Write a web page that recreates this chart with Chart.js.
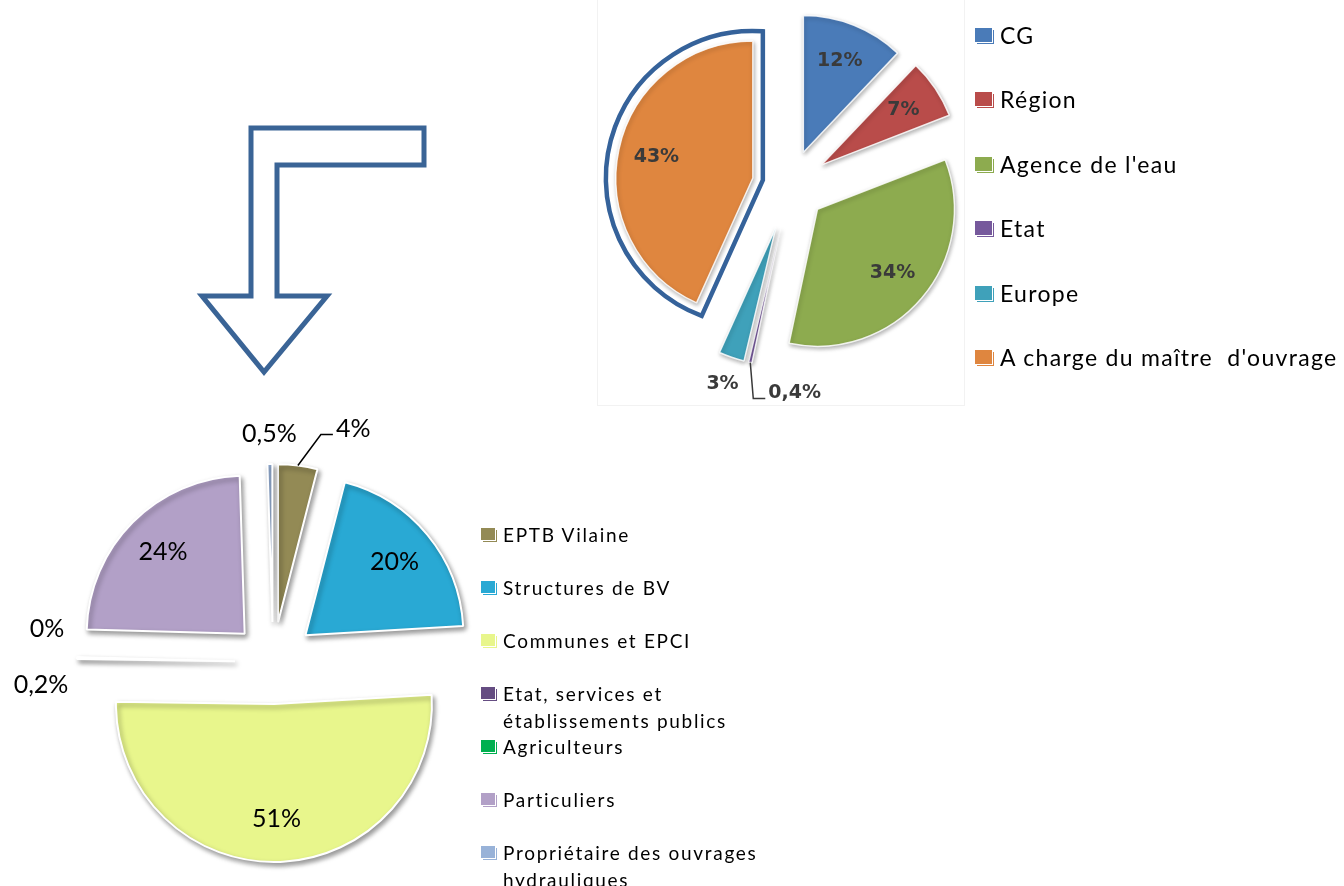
<!DOCTYPE html>
<html lang="fr">
<head>
<meta charset="utf-8">
<title>Répartition des financements</title>
<script src="https://cdn.jsdelivr.net/npm/chart.js@4.4.1/dist/chart.umd.min.js"></script>
<style>
  html, body { margin: 0; padding: 0; background: #fff; }
  body { width: 1344px; height: 886px; position: relative; overflow: hidden; font-family: Lato, "Open Sans", sans-serif; }
  canvas.layer { position: absolute; left: 0; top: 0; }
  #photo-frame { position: absolute; left: 597px; top: -2px; width: 366px; height: 406px; border: 1px solid #f2f2f2; }
  #arrow { position: absolute; left: 0; top: 0; }
  .legend .item { position: absolute; white-space: pre; color: #000; }
  .legend .swatch { position: absolute; left: 0; }
</style>
</head>
<body>
<div id="photo-frame"></div>
<svg id="arrow" width="1344" height="886">
  <polygon points="251,128 424,128 424,165 277,165 277,296 327,296 264,372 202,296 251,296"
           fill="none" stroke="#3a6496" stroke-width="5" stroke-linejoin="miter"/>
</svg>
<canvas id="top-pie" class="layer" width="1344" height="886"></canvas>
<canvas id="bottom-pie" class="layer" width="1344" height="886"></canvas>
<div id="top-legend" class="legend"></div>
<div id="bottom-legend" class="legend"></div>

<script>
// ----------------------------------------
// Data
// ----------------------------------------

// financeurs (top pie)
const topLabels = ['CG', 'Région', "Agence de l'eau", 'Etat', 'Europe', "A charge du maître  d'ouvrage"];
const topValues = [12, 7, 34, 0.4, 3, 43];
const topColors = ['#4a7bb8', '#b94c4a', '#8dab4f', '#76599c', '#3fa1ba', '#df863f'];

// maîtres d'ouvrage (bottom pie)
const bottomLabels = [
  'EPTB Vilaine',
  'Structures de BV',
  'Communes et EPCI',
  ['Etat, services et', 'établissements publics'],
  'Agriculteurs',
  'Particuliers',
  ['Propriétaire des ouvrages', 'hydrauliques']
];
const bottomValues = [4, 20, 51, 0.2, 0, 24, 0.5];
const bottomColors = ['#938a55', '#29a9d4', '#e8f68c', '#654d82', '#00b050', '#b2a0c7', '#98b2d8'];

// ----------------------------------------
// Helpers
// ----------------------------------------

function fmtPercent(v) {
  return String(v).replace('.', ',') + '%';
}

// slices are pulled out by hand so every one moves the same distance
const explodePlugin = {
  id: 'explodedPie',

  beforeDatasetDraw(chart, args, opts) {
    const ctx = chart.ctx;
    args.meta.data.forEach((arc, i) => {
      const mid = (arc.startAngle + arc.endAngle) / 2;
      const d = opts.distances[i];
      ctx.save();
      ctx.translate(Math.cos(mid) * d, Math.sin(mid) * d);
      ctx.shadowColor = opts.shadow.color;
      ctx.shadowBlur = opts.shadow.blur;
      ctx.shadowOffsetX = opts.shadow.x;
      ctx.shadowOffsetY = opts.shadow.y;
      arc.draw(ctx);
      ctx.restore();
    });
    return false;
  },

  afterDatasetsDraw(chart, args, opts) {
    const ctx = chart.ctx;
    const meta = chart.getDatasetMeta(0);
    const values = chart.data.datasets[0].data;
    const outside = [];

    ctx.save();
    ctx.font = opts.font;
    ctx.fillStyle = opts.color;
    ctx.strokeStyle = opts.color;
    ctx.lineWidth = 1.5;
    ctx.textBaseline = 'middle';

    meta.data.forEach((arc, i) => {
      const mid = (arc.startAngle + arc.endAngle) / 2;
      const cos = Math.cos(mid), sin = Math.sin(mid);
      const d = opts.distances[i];
      const cx = arc.x + cos * d;
      const cy = arc.y + sin * d;
      const R = arc.outerRadius;
      const text = fmtPercent(values[i]);
      const mode = opts.labelModes[i];

      if (mode === 'in') {
        ctx.textAlign = 'center';
        ctx.fillText(text, cx + cos * R * opts.inside, cy + sin * R * opts.inside);
      } else if (mode === 'out') {
        outside.push({ i, text, x: cx + cos * (R + opts.outGap), y: cy + sin * (R + opts.outGap) });
      } else if (mode === 'leader') {
        const sx = cx + cos * R, sy = cy + sin * R;
        const ex = sx + opts.leader.dx, ey = sy + opts.leader.dy;
        ctx.beginPath();
        ctx.moveTo(sx, sy);
        ctx.lineTo(ex, ey);
        ctx.lineTo(ex + opts.leader.run, ey);
        ctx.stroke();
        ctx.textAlign = 'left';
        ctx.fillText(text, ex + opts.leader.run + 3, ey + opts.leader.textDy);
      }
    });

    // push apart outside labels that land on each other
    for (let a = 0; a < outside.length; a++) {
      for (let b = a + 1; b < outside.length; b++) {
        const A = outside[a], B = outside[b];
        if (Math.abs(A.x - B.x) < 40 && Math.abs(A.y - B.y) < 24) {
          const my = (A.y + B.y) / 2;
          A.y = my + opts.spread;
          A.x -= 6;
          B.y = my - opts.spread;
        }
      }
    }
    ctx.textAlign = 'center';
    outside.forEach(o => ctx.fillText(o.text, o.x, o.y));

    // frame around the highlighted slice
    if (opts.highlight) {
      const h = opts.highlight;
      const arc = meta.data[h.index];
      const s = arc.startAngle, e = arc.endAngle;
      const mid = (s + e) / 2;
      const d = opts.distances[h.index];
      const ax = arc.x + Math.cos(mid) * d;
      const ay = arc.y + Math.sin(mid) * d;
      const R = arc.outerRadius;
      const g = h.gap;
      const back = g / Math.sin((e - s) / 2);
      const t0 = Math.sqrt((R + g) * (R + g) - g * g);
      const delta = Math.atan2(g, t0);
      ctx.beginPath();
      ctx.moveTo(ax - Math.cos(mid) * back, ay - Math.sin(mid) * back);
      ctx.lineTo(ax + Math.cos(s - delta) * (R + g), ay + Math.sin(s - delta) * (R + g));
      ctx.arc(ax, ay, R + g, s - delta, e + delta);
      ctx.closePath();
      ctx.lineWidth = h.width;
      ctx.strokeStyle = h.color;
      ctx.lineJoin = 'miter';
      ctx.stroke();
    }
    ctx.restore();
  }
};

function makePie(canvasId, labels, values, colors, cfg) {
  return new Chart(document.getElementById(canvasId), {
    type: 'pie',
    data: {
      labels: labels,
      datasets: [{
        data: values,
        backgroundColor: colors,
        borderColor: cfg.border,
        borderWidth: cfg.borderWidth
      }]
    },
    options: {
      responsive: false,
      animation: false,
      events: [],
      radius: cfg.radius,
      layout: { padding: cfg.padding },
      plugins: {
        legend: { display: false },
        tooltip: { enabled: false },
        explodedPie: cfg.explode
      }
    },
    plugins: [explodePlugin]
  });
}

function buildLegend(id, labels, colors, o) {
  const root = document.getElementById(id);
  labels.forEach((lab, i) => {
    const lines = Array.isArray(lab) ? lab : [lab];
    const item = document.createElement('div');
    item.className = 'item';
    item.style.left = o.x + 'px';
    item.style.top = (o.y + i * o.step - o.lineHeight / 2) + 'px';
    item.style.font = o.font;
    item.style.letterSpacing = o.spacing + 'px';
    item.style.lineHeight = o.lineHeight + 'px';
    item.style.paddingLeft = o.textOffset + 'px';

    const sw = document.createElement('span');
    sw.className = 'swatch';
    sw.style.top = ((o.lineHeight - o.box.h) / 2) + 'px';
    sw.style.width = o.box.w + 'px';
    sw.style.height = o.box.h + 'px';
    sw.style.background = colors[i];
    sw.style.boxShadow = '1px 1px 0 #fff, 2px 2px 0 ' + colors[i];

    item.appendChild(sw);
    item.appendChild(document.createTextNode(lines.join('\n')));
    root.appendChild(item);
  });
}

// ----------------------------------------
// Charts
// ----------------------------------------

makePie('top-pie', topLabels, topValues, topColors, {
  radius: 137,
  padding: { left: 236, top: 0, right: 0, bottom: 514 },
  border: 'rgba(255,255,255,0.85)',
  borderWidth: 1.5,
  explode: {
    distances: [36, 38, 36, 44, 44, 38],
    labelModes: ['in', 'in', 'in', 'leader', 'out', 'in'],
    inside: 0.72,
    outGap: 28,
    spread: 28,
    leader: { dx: 3, dy: 36, run: 12, textDy: -6 },
    font: 'bold 19px "DejaVu Sans", sans-serif',
    color: '#3a3a3a',
    shadow: { color: 'rgba(0,0,0,0.3)', blur: 4, x: 1, y: 2 },
    highlight: { index: 5, gap: 10, width: 4.5, color: '#35629a' }
  }
});

makePie('bottom-pie', bottomLabels, bottomValues, bottomColors, {
  radius: 158,
  padding: { left: 0, top: 438, right: 798, bottom: 0 },
  border: '#ffffff',
  borderWidth: 2,
  explode: {
    distances: [40, 42, 42, 38, 38, 40, 40],
    labelModes: ['leader', 'in', 'in', 'out', 'out', 'in', 'out'],
    inside: 0.73,
    outGap: 30,
    spread: 28,
    leader: { dx: 23, dy: -31, run: 12, textDy: -6 },
    font: '25px Lato, sans-serif',
    color: '#000000',
    shadow: { color: 'rgba(0,0,0,0.4)', blur: 5, x: 2, y: 3 },
    highlight: null
  }
});

buildLegend('top-legend', topLabels, topColors, {
  x: 975, y: 35, step: 64.4, lineHeight: 30, textOffset: 25, spacing: 1.3,
  font: '23px Lato, sans-serif', box: { w: 17, h: 14 }
});

buildLegend('bottom-legend', bottomLabels, bottomColors, {
  x: 481, y: 534, step: 53, lineHeight: 27, textOffset: 22, spacing: 1.7,
  font: '19px Lato, sans-serif', box: { w: 14, h: 12 }
});
</script>
</body>
</html>
